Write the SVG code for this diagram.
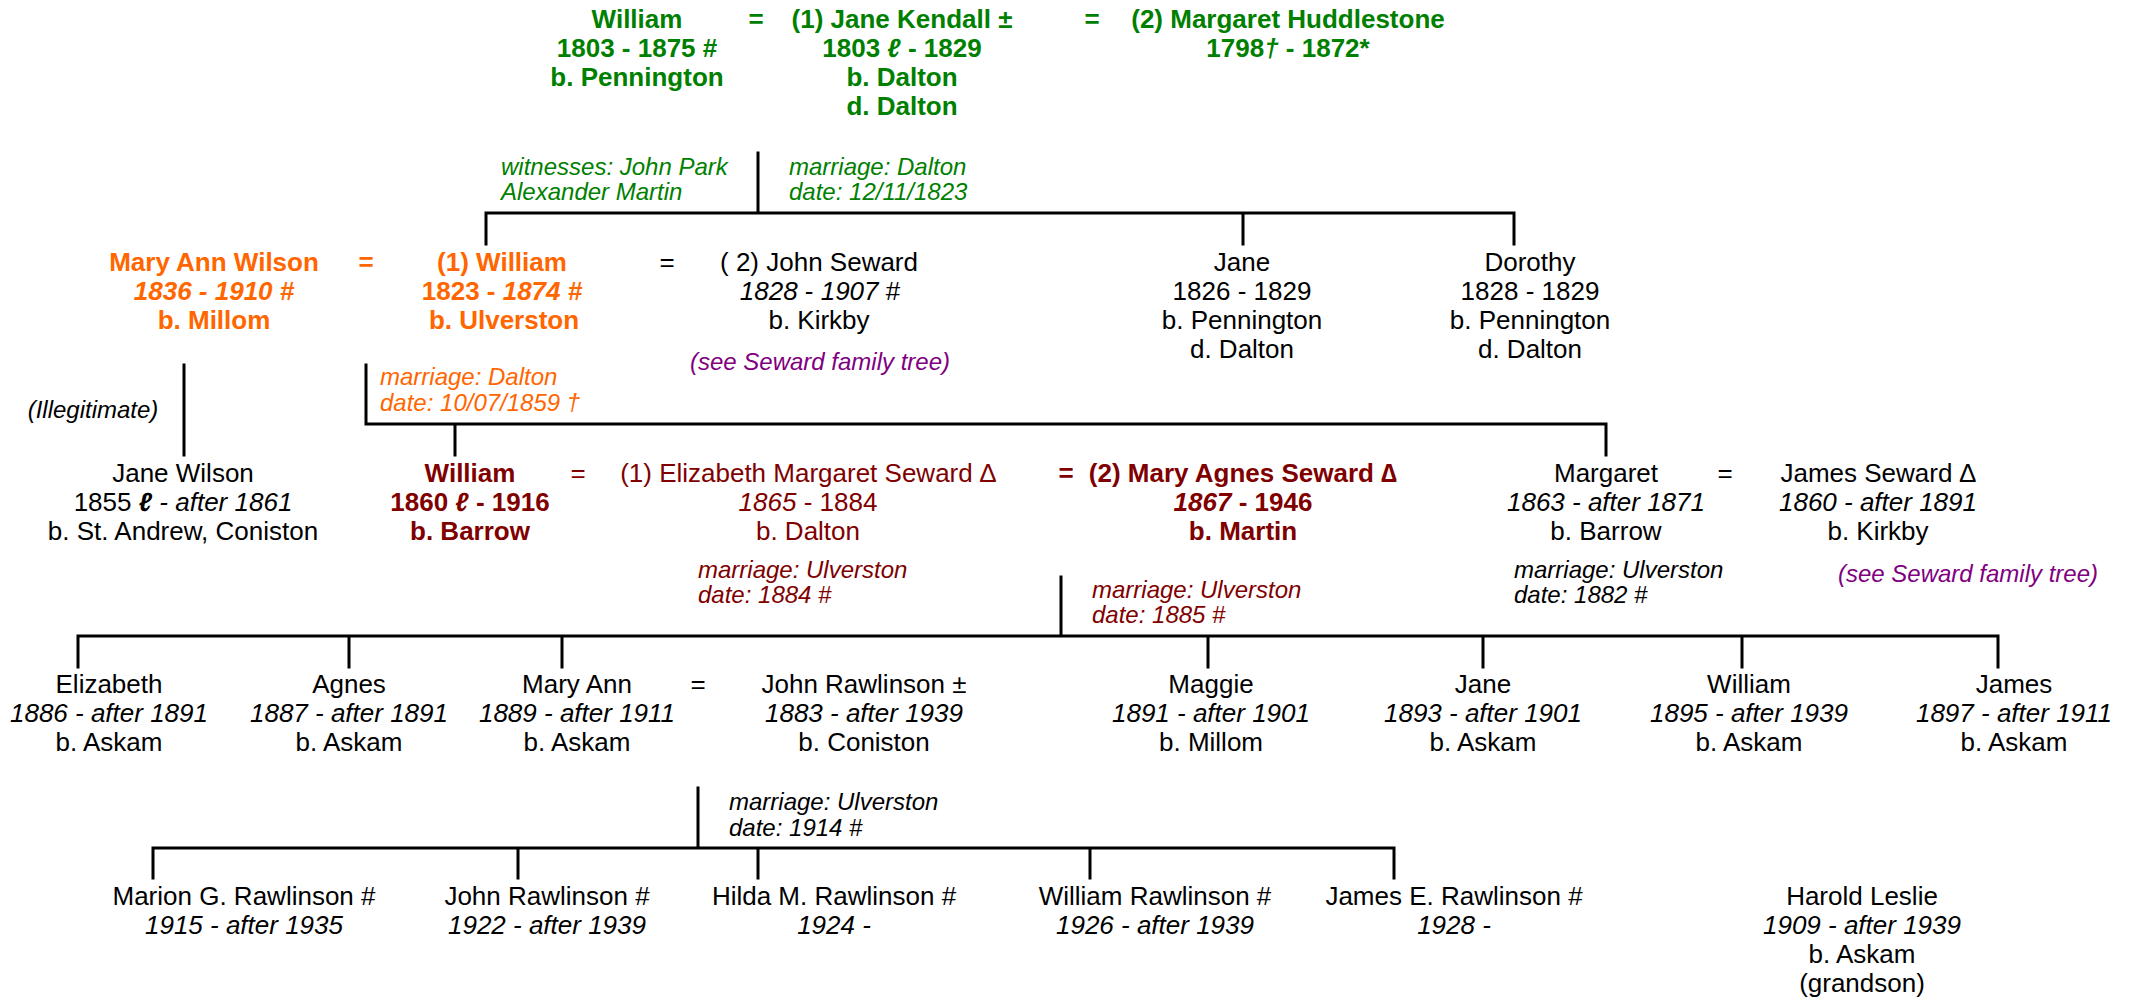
<svg xmlns="http://www.w3.org/2000/svg" width="2136" height="1000" viewBox="0 0 2136 1000">
<style>
text{font-family:"Liberation Sans",Arial,"DejaVu Sans",sans-serif;font-size:26px;fill:#000}
.c{text-anchor:middle}
.note{font-size:24px;font-style:italic}
.g{fill:#008000;font-weight:bold}
.o{fill:#FF6600;font-weight:bold}
.m{fill:#800000}
.p{fill:#800080}
.b{font-weight:bold}
.i{font-style:italic}
.u{font-style:normal}
.ln{stroke:#000;stroke-width:3;fill:none;stroke-linecap:square}
</style>
<rect width="2136" height="1000" fill="#fff"/>
<g id="connectors">
<path class="ln" d="M758,153V213M486,244V213H1514V244M1243,213V244"/>
<path class="ln" d="M184,365V455M366,365V424H1606V455M455,424V455"/>
<path class="ln" d="M1061,577V636M78,667V636H1998V667M349,636V667M562,636V667M1208,636V667M1483,636V667M1742,636V667"/>
<path class="ln" d="M698,788V848M153,878V848H1394V878M518,848V878M758,848V878M1090,848V878"/>
</g>
<g id="william-1803">
<text class="c g" x="637" y="28">William</text>
<text class="c g" x="637" y="57">1803 - 1875 #</text>
<text class="c g" x="637" y="86">b. Pennington</text>
</g>
<g id="eq1"><text class="c g" x="756" y="28">=</text></g>
<g id="jane-kendall">
<text class="c g" x="902" y="28">(1) Jane Kendall ±</text>
<text class="c g" x="902" y="57">1803 <tspan class="i">ℓ</tspan> - 1829</text>
<text class="c g" x="902" y="86">b. Dalton</text>
<text class="c g" x="902" y="115">d. Dalton</text>
</g>
<g id="eq2"><text class="c g" x="1092" y="28">=</text></g>
<g id="margaret-huddlestone">
<text class="c g" x="1288" y="28">(2) Margaret Huddlestone</text>
<text class="c g" x="1288" y="57">1798<tspan class="i">†</tspan> - 1872*</text>
</g>
<g id="note-1823">
<text class="note g" style="font-weight:normal" x="501" y="175">witnesses: John Park</text>
<text class="note g" style="font-weight:normal" x="501" y="200">Alexander Martin</text>
<text class="note g" style="font-weight:normal" x="789" y="175">marriage: Dalton</text>
<text class="note g" style="font-weight:normal" x="789" y="200">date: 12/11/1823</text>
</g>
<g id="mary-ann-wilson">
<text class="c o" x="214" y="271">Mary Ann Wilson</text>
<text class="c o i" x="214" y="300">1836 - 1910 #</text>
<text class="c o" x="214" y="329">b. Millom</text>
</g>
<g id="eq3"><text class="c o" x="366" y="271">=</text></g>
<g id="william-1823">
<text class="c o" x="502" y="271">(1) William</text>
<text class="c o" x="502" y="300">1823 - <tspan class="i">1874 #</tspan></text>
<text class="c o" x="504" y="329">b. Ulverston</text>
</g>
<g id="eq4"><text class="c" x="667" y="271">=</text></g>
<g id="john-seward">
<text class="c" x="819" y="271">( 2) John Seward</text>
<text class="c" x="820" y="300"><tspan class="i">1828</tspan> - <tspan class="i">1907</tspan> #</text>
<text class="c" x="819" y="329">b. Kirkby</text>
<text class="c note p" x="820" y="370">(see Seward family tree)</text>
</g>
<g id="jane-1826">
<text class="c" x="1242" y="271">Jane</text>
<text class="c" x="1242" y="300">1826 - 1829</text>
<text class="c" x="1242" y="329">b. Pennington</text>
<text class="c" x="1242" y="358">d. Dalton</text>
</g>
<g id="dorothy">
<text class="c" x="1530" y="271">Dorothy</text>
<text class="c" x="1530" y="300">1828 - 1829</text>
<text class="c" x="1530" y="329">b. Pennington</text>
<text class="c" x="1530" y="358">d. Dalton</text>
</g>
<g id="note-1859">
<text class="note" x="93" y="418" text-anchor="middle">(Illegitimate)</text>
<text class="note" style="fill:#FF6600" x="380" y="385">marriage: Dalton</text>
<text class="note" style="fill:#FF6600" x="380" y="411">date: 10/07/1859  †</text>
</g>
<g id="jane-wilson">
<text class="c" x="183" y="482">Jane Wilson</text>
<text class="c" x="183" y="511">1855 <tspan class="b i">ℓ</tspan><tspan class="i"> - after 1861</tspan></text>
<text class="c" x="183" y="540">b. St. Andrew, Coniston</text>
</g>
<g id="william-1860">
<text class="c m b" x="470" y="482">William</text>
<text class="c m b" x="470" y="511">1860 <tspan class="i">ℓ</tspan> - 1916</text>
<text class="c m b" x="470" y="540">b. Barrow</text>
</g>
<g id="eq5"><text class="c m" x="578" y="482">=</text></g>
<g id="elizabeth-margaret-seward">
<text class="c m" x="808" y="482">(1) Elizabeth Margaret Seward ∆</text>
<text class="c m" x="808" y="511"><tspan class="i">1865</tspan> - 1884</text>
<text class="c m" x="808" y="540">b. Dalton</text>
</g>
<g id="eq6"><text class="c m b" x="1066" y="482">=</text></g>
<g id="mary-agnes-seward">
<text class="c m b" x="1243" y="482">(2) Mary Agnes Seward ∆</text>
<text class="c m b" x="1243" y="511"><tspan class="i">1867</tspan> - 1946</text>
<text class="c m b" x="1243" y="540">b. Martin</text>
</g>
<g id="margaret-1863">
<text class="c" x="1606" y="482">Margaret</text>
<text class="c i" x="1606" y="511">1863 - after 1871</text>
<text class="c" x="1606" y="540">b. Barrow</text>
</g>
<g id="eq7"><text class="c" x="1725" y="482">=</text></g>
<g id="james-seward">
<text class="c" x="1878" y="482">James Seward ∆</text>
<text class="c i" x="1878" y="511">1860 - after 1891</text>
<text class="c" x="1878" y="540">b. Kirkby</text>
<text class="c note p" x="1968" y="582">(see Seward family tree)</text>
</g>
<g id="notes-188x">
<text class="note m" x="698" y="578">marriage: Ulverston</text>
<text class="note m" x="698" y="603">date: 1884 #</text>
<text class="note m" x="1092" y="598">marriage: Ulverston</text>
<text class="note m" x="1092" y="623">date: 1885 #</text>
<text class="note" x="1514" y="578">marriage: Ulverston</text>
<text class="note" x="1514" y="603">date: 1882 #</text>
</g>
<g id="elizabeth-1886">
<text class="c" x="109" y="693">Elizabeth</text>
<text class="c i" x="109" y="722">1886 - after 1891</text>
<text class="c" x="109" y="751">b. Askam</text>
</g>
<g id="agnes">
<text class="c" x="349" y="693">Agnes</text>
<text class="c i" x="349" y="722">1887 - after 1891</text>
<text class="c" x="349" y="751">b. Askam</text>
</g>
<g id="mary-ann-1889">
<text class="c" x="577" y="693">Mary Ann</text>
<text class="c i" x="577" y="722">1889 - after 1911</text>
<text class="c" x="577" y="751">b. Askam</text>
</g>
<g id="eq8"><text class="c" x="698" y="693">=</text></g>
<g id="john-rawlinson-1883">
<text class="c" x="864" y="693">John Rawlinson ±</text>
<text class="c i" x="864" y="722">1883 - after 1939</text>
<text class="c" x="864" y="751">b. Coniston</text>
</g>
<g id="maggie">
<text class="c" x="1211" y="693">Maggie</text>
<text class="c i" x="1211" y="722">1891 - after 1901</text>
<text class="c" x="1211" y="751">b. Millom</text>
</g>
<g id="jane-1893">
<text class="c" x="1483" y="693">Jane</text>
<text class="c i" x="1483" y="722">1893 - after 1901</text>
<text class="c" x="1483" y="751">b. Askam</text>
</g>
<g id="william-1895">
<text class="c" x="1749" y="693">William</text>
<text class="c i" x="1749" y="722">1895 - after 1939</text>
<text class="c" x="1749" y="751">b. Askam</text>
</g>
<g id="james-1897">
<text class="c" x="2014" y="693">James</text>
<text class="c i" x="2014" y="722">1897 - after 1911</text>
<text class="c" x="2014" y="751">b. Askam</text>
</g>
<g id="note-1914">
<text class="note" x="729" y="810">marriage: Ulverston</text>
<text class="note" x="729" y="836">date: 1914 #</text>
</g>
<g id="marion">
<text class="c" x="244" y="905">Marion G. Rawlinson #</text>
<text class="c i" x="244" y="934">1915 - after 1935</text>
</g>
<g id="john-rawlinson-1922">
<text class="c" x="547" y="905">John Rawlinson #</text>
<text class="c i" x="547" y="934">1922 - after 1939</text>
</g>
<g id="hilda">
<text class="c" x="834" y="905">Hilda M. Rawlinson #</text>
<text class="c i" x="834" y="934">1924 -</text>
</g>
<g id="william-rawlinson">
<text class="c" x="1155" y="905">William Rawlinson #</text>
<text class="c i" x="1155" y="934">1926 - after 1939</text>
</g>
<g id="james-rawlinson">
<text class="c" x="1454" y="905">James E. Rawlinson #</text>
<text class="c i" x="1454" y="934">1928 -</text>
</g>
<g id="harold-leslie">
<text class="c" x="1862" y="905">Harold Leslie</text>
<text class="c i" x="1862" y="934">1909 - after 1939</text>
<text class="c" x="1862" y="963">b. Askam</text>
<text class="c" x="1862" y="992">(grandson)</text>
</g>
</svg>
